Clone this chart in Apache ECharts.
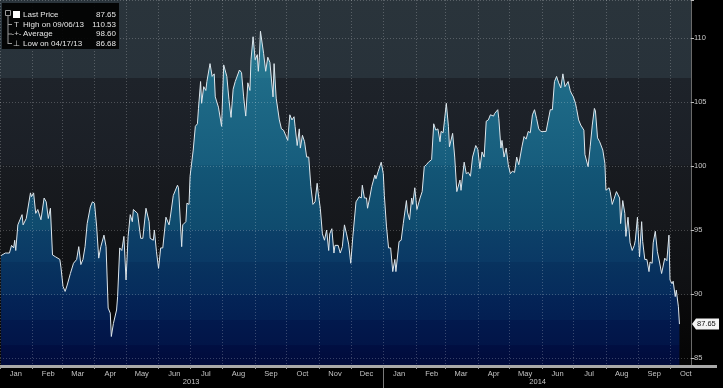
<!DOCTYPE html>
<html><head><meta charset="utf-8">
<script src="https://cdn.jsdelivr.net/npm/echarts@6/dist/echarts.min.js"></script>
<style>html,body{margin:0;padding:0;background:#000;overflow:hidden}#c{width:723px;height:388px}</style>
</head><body><div id="c"></div>
<script>
// ---- data ----
const days2013 = ['01-02','01-06','01-10','01-12','01-14','01-15','01-16','01-18','01-22','01-23','01-26','01-30','01-31',
'02-02','02-04','02-06','02-09','02-12','02-14','02-15','02-16','02-18','02-20','02-23','02-24','02-27','02-28',
'03-02','03-04','03-06','03-07','03-09','03-12','03-15','03-17','03-19','03-21','03-23','03-25','03-28','03-30',
'04-01','04-03','04-05','04-07','04-10','04-12','04-14','04-16','04-17','04-19','04-22','04-23','04-25','04-27','04-29',
'05-01','05-03','05-05','05-07','05-08','05-12','05-15','05-17','05-20','05-23','05-24','05-27','05-28','05-30',
'06-01','06-03','06-05','06-08','06-11','06-12','06-15','06-19','06-20','06-23','06-24','06-27','06-28','06-30',
'07-01','07-04','07-06','07-08','07-09','07-11','07-12','07-14','07-16','07-17','07-20','07-21','07-22','07-24','07-25','07-28','07-31',
'08-02','08-05','08-07','08-09','08-11','08-13','08-17','08-19','08-21','08-23','08-25','08-27','08-28','08-30',
'09-01','09-03','09-04','09-05','09-06','09-09','09-11','09-13','09-15','09-18','09-19','09-21','09-24','09-26','09-28','09-30',
'10-02','10-04','10-06','10-08','10-09','10-11','10-13','10-14','10-16','10-18','10-20','10-22','10-24','10-26','10-28','10-30','10-31',
'11-02','11-04','11-06','11-08','11-10','11-11','11-13','11-15','11-16','11-19','11-21','11-23','11-25','11-27','11-29',
'12-01','12-03','12-06','12-09','12-11','12-12','12-14','12-16','12-17','12-19','12-21','12-24','12-25','12-27','12-30'];
const prices2013 = [93.0,93.2,93.2,93.8,93.6,94.2,93.4,95.4,96.2,95.4,95.9,97.9,97.6,
97.9,96.3,96.6,95.8,97.5,97.2,97.3,95.9,96.7,93.05,92.9,92.8,92.7,92.1,
90.6,90.2,90.7,90.6,91.6,92.4,92.7,93.7,92.3,92.7,93.7,95.5,96.8,97.2,
97.1,95.3,92.8,93.7,94.6,93.7,88.9,88.5,86.68,87.7,88.75,89.8,93.6,93.4,94.5,
91.1,94.5,96.2,95.65,96.6,96.3,94.35,94.35,96.7,95.65,94.35,94.2,95.0,93.3,
92.0,93.6,93.6,96.0,95.4,95.9,97.7,98.5,98.3,93.7,95.4,95.65,97.1,97.0,
99.2,101.25,103.1,103.3,104.5,106.6,104.9,106.2,105.9,106.6,108.0,108.0,107.0,107.2,105.4,104.6,103.1,
107.9,107.0,105.2,103.8,106.0,106.6,107.5,107.3,105.4,103.9,106.5,105.9,108.3,110.1,
108.3,108.7,107.4,108.5,110.53,108.8,107.4,108.5,108.1,105.4,108.0,105.3,103.6,102.9,102.8,102.4,
102.0,104.0,103.6,103.85,103.1,101.6,102.9,101.4,102.4,101.9,100.7,100.7,98.4,97.0,97.2,98.65,97.9,
96.7,94.7,94.2,95.0,93.4,94.7,95.1,93.2,93.8,93.8,93.2,93.7,95.4,94.7,93.9,
92.4,94.5,97.2,97.6,97.5,98.5,97.5,97.5,96.7,97.5,98.4,99.3,99.0,99.55,100.3];
const days2014 = ['01-01','01-02','01-04','01-06','01-08','01-10','01-12','01-13','01-16','01-18','01-20','01-23','01-24','01-26','01-28','01-29','01-31',
'02-02','02-05','02-07','02-09','02-11','02-13','02-16','02-18','02-20','02-22','02-24','02-25','02-27',
'03-02','03-04','03-05','03-08','03-10','03-12','03-15','03-16','03-19','03-21','03-23','03-25','03-27','03-30',
'04-01','04-03','04-05','04-07','04-09','04-11','04-13','04-16','04-17','04-20','04-21','04-23','04-24','04-26','04-28','04-30',
'05-02','05-04','05-06','05-08','05-10','05-13','05-15','05-17','05-19','05-21','05-23','05-25','05-27','05-29','05-31',
'06-02','06-05','06-06','06-09','06-11','06-13','06-15','06-17','06-19','06-21','06-23','06-26','06-28','06-29',
'07-01','07-03','07-04','07-06','07-08','07-11','07-12','07-13','07-15','07-17','07-19','07-21','07-22','07-24','07-26','07-29','07-31',
'08-01','08-04','08-05','08-07','08-09','08-11','08-14','08-15','08-17','08-19','08-20','08-22','08-24','08-26','08-28','08-29','08-31',
'09-02','09-04','09-05','09-07','09-09','09-11','09-12','09-14','09-15','09-17','09-19','09-21','09-23','09-24','09-26','09-28','09-30',
'10-01','10-03','10-04','10-06','10-07','10-09','10-10'];
const prices2014 = [99.4,97.7,95.3,93.6,93.6,91.75,92.7,91.75,94.1,94.2,95.5,97.3,96.4,95.8,97.5,97.0,98.3,
96.6,97.5,98.0,99.95,100.1,100.3,100.5,103.3,102.8,102.9,101.9,102.7,102.6,
104.9,103.1,101.5,102.55,100.7,98.0,98.9,98.1,100.3,99.4,99.5,99.2,100.7,101.6,
101.3,99.8,101.1,100.7,103.5,103.6,104.0,103.9,104.1,104.4,103.7,101.4,102.0,100.7,101.4,100.1,
99.4,99.6,99.5,100.7,100.1,101.5,102.3,102.1,102.7,102.6,104.0,104.4,103.7,102.9,102.7,
102.7,102.7,102.6,104.4,104.4,106.6,107.0,106.5,106.1,107.2,106.2,106.6,105.9,105.7,
105.4,104.9,104.5,103.6,103.2,102.8,100.9,100.9,99.95,101.5,103.2,104.5,104.3,102.2,101.9,101.25,100.2,
98.1,98.3,98.0,97.0,97.5,98.0,97.5,95.5,97.3,96.3,94.5,96.0,94.0,93.4,93.8,94.2,96.0,
92.9,95.65,94.1,92.7,92.7,91.75,92.5,92.4,94.0,94.9,93.3,92.5,91.6,91.75,92.8,92.6,94.6,
91.1,90.8,91.0,89.8,90.3,89.0,87.65];

const axisStart = [2013, 0, 1];
const axisEnd = [2014, 9, 21];
const monthNames = ['Jan','Feb','Mar','Apr','May','Jun','Jul','Aug','Sep','Oct','Nov','Dec'];
const yearLabels = {'2013-07-02': '2013', '2014-05-28': '2014'};
const yearDivider = '2014-01-01';
const yTickLabels = [85, 90, 95, 100, 105, 110];
const yMin = 84.375, yMax = 112.97;
const legendRows = [
  {label: 'Last Price', value: '87.65'},
  {label: 'High on 09/06/13', value: '110.53'},
  {label: 'Average', value: '98.60'},
  {label: 'Low on 04/17/13', value: '86.68'}
];
const lastPrice = 87.65;

// ---- build category axis (one slot per calendar day) ----
const cats = [];
for (let t = Date.UTC(...axisStart); t <= Date.UTC(...axisEnd); t += 86400000) {
  cats.push(new Date(t).toISOString().slice(0, 10));
}
const lookup = {};
days2013.forEach((d, i) => lookup['2013-' + d] = prices2013[i]);
days2014.forEach((d, i) => lookup['2014-' + d] = prices2014[i]);
const seriesData = cats.map(c => (c in lookup ? lookup[c] : null));

const FONT = '"Liberation Sans", Arial, sans-serif';
const G = {left: 0, right: 32, top: 0, bottom: 22};
const plotH = 388 - G.top - G.bottom;

const chart = echarts.init(document.getElementById('c'), null, {renderer: 'canvas'});
const LG = echarts.graphic.LinearGradient;

// stepped gradient helper (style only)
function bands(list) {
  const stops = [];
  list.forEach((b, i) => {
    stops.push({offset: b[0] / plotH, color: b[2]});
    stops.push({offset: Math.min(1, b[1] / plotH) - 0.0005, color: b[3]});
  });
  return stops;
}
const gridBg = new LG(0, 0, 0, 1, bands([
  [0, 78, '#2a343b', '#28323a'],
  [78, 165, '#1e232a', '#1b1f26'],
  [165, 230, '#181b20', '#16181c'],
  [230, 295, '#121417', '#0f1013'],
  [295, 366, '#0a0a0c', '#050505']
]));
const fillGrad = new LG(0, 0, 0, plotH, bands([
  [0, 78, '#2a7f98', '#24738c'],
  [78, 165, '#1f6c88', '#175d7d'],
  [165, 230, '#135676', '#0f4b6e'],
  [230, 262, '#0c4068', '#0a3965'],
  [262, 295, '#08335f', '#062c5c'],
  [295, 320, '#042457', '#031f52'],
  [320, 345, '#02194d', '#021548'],
  [345, 366, '#010f42', '#010b3b']
]), true);

const splitStyle = {color: 'rgba(255,255,255,0.22)', type: [1, 2], width: 1};

const legendGraphics = [];
legendGraphics.push({type: 'rect', shape: {x: 2, y: 3, width: 117, height: 46}, style: {fill: 'rgba(0,0,0,0.9)'}, z: 100});
legendGraphics.push({type: 'rect', shape: {x: 5.5, y: 10.5, width: 5, height: 5}, style: {fill: 'none', stroke: '#9a9a9a', lineWidth: 1}, z: 101});
legendGraphics.push({type: 'line', shape: {x1: 8, y1: 16, x2: 8, y2: 44}, style: {stroke: '#9a9a9a', lineWidth: 1}, z: 101});
const rowY = [15, 24.5, 34, 43.5];
rowY.slice(1).forEach(y => legendGraphics.push({type: 'line', shape: {x1: 8, y1: y, x2: 12, y2: y}, style: {stroke: '#9a9a9a', lineWidth: 1}, z: 101}));
legendGraphics.push({type: 'rect', shape: {x: 13, y: 11, width: 7, height: 7}, style: {fill: '#ffffff'}, z: 101});
legendGraphics.push({type: 'text', x: 16.5, y: rowY[1], style: {text: 'T', fill: '#d0d0d0', font: '8px ' + FONT, align: 'center', verticalAlign: 'middle'}, z: 101});
legendGraphics.push({type: 'text', x: 16.5, y: rowY[2], style: {text: '-+-', fill: '#d0d0d0', font: '8px ' + FONT, align: 'center', verticalAlign: 'middle'}, z: 101});
legendGraphics.push({type: 'text', x: 16.5, y: rowY[3], style: {text: '\u22A5', fill: '#d0d0d0', font: '8px ' + FONT, align: 'center', verticalAlign: 'middle'}, z: 101});
legendRows.forEach((r, i) => {
  legendGraphics.push({type: 'text', x: 23, y: rowY[i], style: {text: r.label, fill: '#e6e6e6', font: '8px ' + FONT, verticalAlign: 'middle'}, z: 101});
  legendGraphics.push({type: 'text', x: 116, y: rowY[i], style: {text: r.value, fill: '#e6e6e6', font: '8px ' + FONT, align: 'right', verticalAlign: 'middle'}, z: 101});
});
// extension of the bottom axis bar under the right-hand price scale
legendGraphics.push({type: 'rect', shape: {x: 723 - G.right, y: 388 - G.bottom - 1, width: G.right - 6, height: 3}, style: {fill: '#a9a9a9'}, z: 50});

chart.setOption({
  animation: false,
  backgroundColor: '#000',
  grid: {left: G.left, right: G.right, top: G.top, bottom: G.bottom, show: true, backgroundColor: gridBg, borderWidth: 0},
  xAxis: [
    {
      type: 'category', data: cats, boundaryGap: false, z: 3,
      axisLine: {show: true, lineStyle: {color: '#a9a9a9', width: 3}},
      axisTick: {show: true, length: 3, interval: (i, v) => v.slice(8) === '01', lineStyle: {color: '#9a9a9a'}},
      splitLine: {show: true, interval: (i, v) => v.slice(8) === '01', lineStyle: splitStyle},
      axisLabel: {
        interval: (i, v) => v.slice(8) === '16',
        formatter: v => monthNames[+v.slice(5, 7) - 1],
        color: '#c4c4c4', fontSize: 7.5, fontFamily: FONT, margin: 4
      }
    },
    {
      type: 'category', data: cats, boundaryGap: false, position: 'bottom', offset: 9,
      axisLine: {show: false}, axisTick: {show: false}, splitLine: {show: false},
      axisLabel: {interval: (i, v) => v in yearLabels, formatter: v => yearLabels[v] || '', color: '#c4c4c4', fontSize: 7.5, fontFamily: FONT, margin: 3}
    },
    {
      type: 'category', data: cats, boundaryGap: false, position: 'bottom',
      axisLine: {show: false}, splitLine: {show: false}, axisLabel: {show: false},
      axisTick: {show: true, length: 22, interval: (i, v) => v === yearDivider, lineStyle: {color: '#7a7a7a'}}
    }
  ],
  yAxis: {
    type: 'value', position: 'right', min: yMin, max: yMax, splitNumber: 5, z: 3,
    axisLine: {show: true, lineStyle: {color: '#6a6a6a', width: 1}},
    axisTick: {show: true, length: 3, lineStyle: {color: '#bcbcbc'}},
    splitLine: {show: true, lineStyle: splitStyle},
    axisLabel: {
      formatter: v => (yTickLabels.indexOf(Math.round(v * 1000) / 1000) >= 0 ? String(v) : ''),
      color: '#c8c8c8', fontSize: 7.5, fontFamily: FONT, margin: 3
    }
  },
  series: [{
    type: 'line', data: seriesData, connectNulls: true, symbol: 'none', xAxisIndex: 0,
    lineStyle: {color: '#dde6ec', width: 1},
    areaStyle: {color: fillGrad, opacity: 1},
    z: 2
  }],
  graphic: legendGraphics
});

// last-price tag on the right scale, placed through the axis scale
const ty = chart.convertToPixel({yAxisIndex: 0}, lastPrice);
const ax = 723 - G.right;
chart.setOption({
  graphic: legendGraphics.concat([
    {type: 'polygon', shape: {points: [[ax + 1, ty], [ax + 5, ty - 5.5], [ax + 28, ty - 5.5], [ax + 28, ty + 5.5], [ax + 5, ty + 5.5]]}, style: {fill: '#f4f4f4'}, z: 120},
    {type: 'text', x: ax + 6, y: ty, style: {text: lastPrice.toFixed(2), fill: '#111', font: '7.5px ' + FONT, verticalAlign: 'middle'}, z: 121}
  ])
});
</script></body></html>
